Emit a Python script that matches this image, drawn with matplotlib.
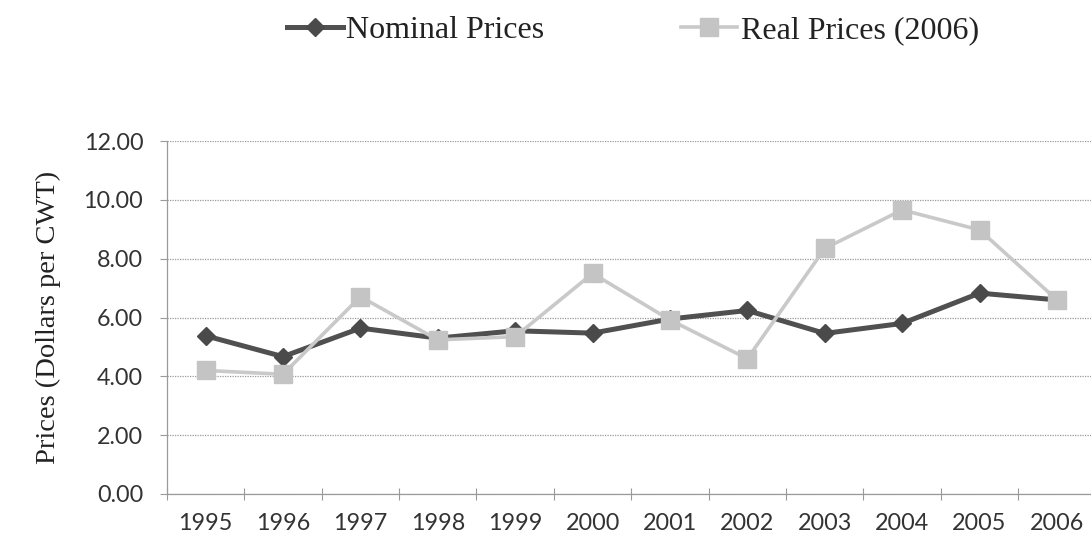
import matplotlib

matplotlib.use("Agg")
import matplotlib.pyplot as plt

years = ["1995", "1996", "1997", "1998", "1999", "2000",
         "2001", "2002", "2003", "2004", "2005", "2006"]
nominal = [5.38, 4.67, 5.64, 5.30, 5.55, 5.47, 5.95, 6.24, 5.46, 5.80, 6.83, 6.60]
real = [4.20, 4.07, 6.71, 5.24, 5.35, 7.50, 5.92, 4.60, 8.35, 9.66, 8.98, 6.60]
y_ticks = [0, 2, 4, 6, 8, 10, 12]

GRID = "#9a9a9a"
DARK = "#505050"
LIGHT = "#c9c9c9"

fig = plt.figure(figsize=(10.91, 5.47), dpi=100)
ax = fig.add_axes([0.153, 0.097, 0.847, 0.645])

x = list(range(len(years)))
l_nom, = ax.plot(x, nominal, color=DARK, linewidth=3.6, marker="D", markersize=9.5,
                 markerfacecolor="#4a4a4a", markeredgecolor="#4a4a4a", zorder=3)
l_real, = ax.plot(x, real, color=LIGHT, linewidth=2.6, marker="s", markersize=13.5,
                  markerfacecolor="#c4c4c4", markeredgecolor="#c4c4c4", zorder=4)

ax.set_xlim(-0.5, 11.44)
ax.set_ylim(0, 12)
ax.set_yticks(y_ticks)
ax.set_yticklabels([f"{v:.2f}" for v in y_ticks])
ax.set_xticks(x)
ax.set_xticklabels(years)
ax.set_xticks([i + 0.5 for i in range(len(years) - 1)] + [-0.5], minor=True)

ax.grid(axis="y", color=GRID, linestyle=(0, (1, 1)), linewidth=0.9, zorder=1)
for side in ("top", "right"):
    ax.spines[side].set_visible(False)
for side in ("left", "bottom"):
    ax.spines[side].set_color(GRID)
    ax.spines[side].set_linestyle((0, (1, 1)))
    ax.spines[side].set_linewidth(0.9)

ax.tick_params(axis="x", which="major", length=0, pad=14)
ax.tick_params(axis="x", which="minor", length=8, direction="inout", color=GRID, width=0.8)
ax.tick_params(axis="y", length=5, color=GRID, width=0.8, pad=12)
for lab in ax.get_xticklabels() + ax.get_yticklabels():
    lab.set_fontfamily("Lato")
    lab.set_fontsize(16.8)
    lab.set_color("#333333")

ax.set_ylabel("Prices (Dollars per CWT)", fontfamily="Liberation Serif", fontsize=20.5,
              color="#222222", labelpad=16)

fig.legend([l_nom, l_real], ["Nominal Prices", "Real Prices (2006)"],
           loc="center", bbox_to_anchor=(0.58, 0.945), ncol=2, frameon=False,
           prop={"family": "Liberation Serif", "size": 23},
           handlelength=1.75, handletextpad=0.1, columnspacing=4.3, markerscale=1.0)
for t in fig.legends[0].get_texts():
    t.set_color("#222222")

fig.savefig("out.png", dpi=100, facecolor="white")
